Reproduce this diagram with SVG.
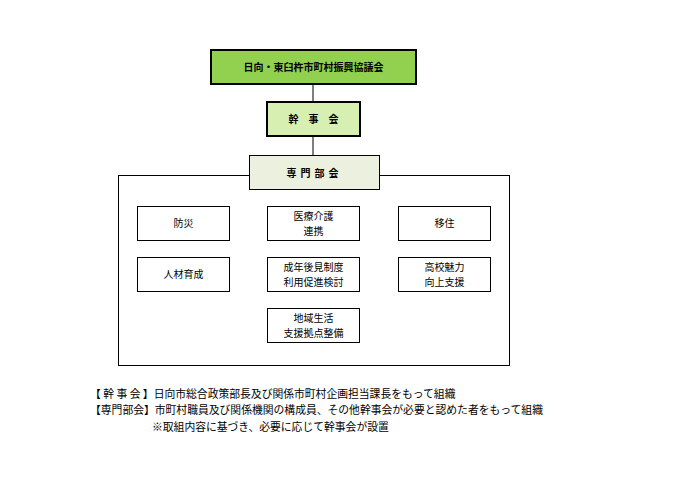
<svg xmlns="http://www.w3.org/2000/svg" width="680" height="481" viewBox="0 0 680 481">
<style>
text{font-family:"Noto Sans CJK JP",sans-serif;font-size:10px;fill:#000;text-anchor:middle}
.b{fill:#fff;stroke:#000;stroke-width:1}
.n{text-anchor:start;font-size:10.8px}
</style>
<rect width="680" height="481" fill="#fff"/>
<g id="connectors" stroke="#000" stroke-width="1" fill="none">
<line x1="313" y1="84" x2="313" y2="102"/>
<line x1="313" y1="136" x2="313" y2="155"/>
<rect x="118.5" y="175.5" width="391" height="190"/>
</g>
<g id="top"><rect x="211" y="50" width="205" height="34" fill="#92d050" stroke="#000" stroke-width="2"/><text x="313.5" y="71" font-weight="bold">日向・東臼杵市町村振興協議会</text></g>
<g id="kanji"><rect x="267" y="102" width="93" height="34" fill="#d7efb0" stroke="#000" stroke-width="2"/><text x="313.5" y="123" font-weight="bold">幹　事　会</text></g>
<g id="senmon"><rect x="249.5" y="155.5" width="130" height="34" fill="#ebf1de" stroke="#000"/><text x="314.5" y="177" font-weight="bold" font-size="11" letter-spacing="4">専門部会</text></g>
<g id="bosai"><rect class="b" x="137.5" y="206.5" width="92" height="34"/><text x="183.5" y="227">防災</text></g>
<g id="iryo"><rect class="b" x="267.5" y="206.5" width="92" height="34"/><text x="313.5" y="220">医療介護</text><text x="313.5" y="235">連携</text></g>
<g id="iju"><rect class="b" x="398.5" y="206.5" width="92" height="34"/><text x="444.5" y="227">移住</text></g>
<g id="jinzai"><rect class="b" x="137.5" y="257.5" width="92" height="34"/><text x="183.5" y="278">人材育成</text></g>
<g id="seinen"><rect class="b" x="267.5" y="257.5" width="92" height="34"/><text x="313.5" y="271">成年後見制度</text><text x="313.5" y="286">利用促進検討</text></g>
<g id="koko"><rect class="b" x="398.5" y="257.5" width="92" height="34"/><text x="444.5" y="271">高校魅力</text><text x="444.5" y="286">向上支援</text></g>
<g id="chiiki"><rect class="b" x="267.5" y="308.5" width="92" height="34"/><text x="313.5" y="322">地域生活</text><text x="313.5" y="337">支援拠点整備</text></g>
<g id="notes">
<text class="n" x="90" y="398">【 幹 事 会 】日向市総合政策部長及び関係市町村企画担当課長をもって組織</text>
<text class="n" x="90" y="414">【専門部会】市町村職員及び関係機関の構成員、その他幹事会が必要と認めた者をもって組織</text>
<text class="n" x="152" y="431">※取組内容に基づき、必要に応じて幹事会が設置</text>
</g>
</svg>
